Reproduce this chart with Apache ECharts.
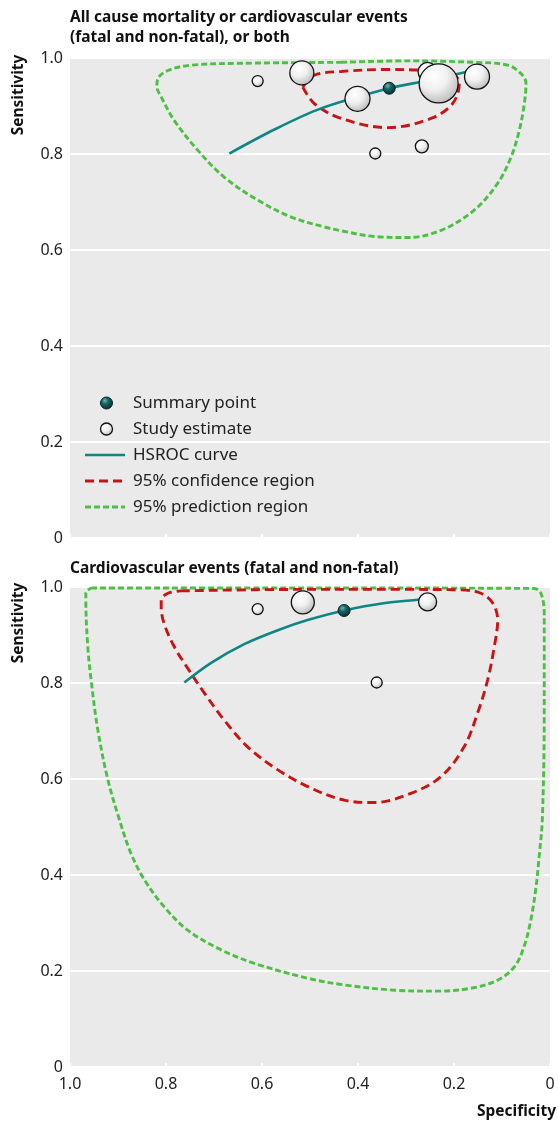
<!DOCTYPE html>
<html>
<head>
<meta charset="utf-8">
<script src="https://cdn.jsdelivr.net/npm/echarts@6/dist/echarts.min.js"></script>
<style>
html,body{margin:0;padding:0;background:#fff;}
#chart{width:558px;height:1126px;}
</style>
</head>
<body>
<div id="chart"></div>
<script>
// ---------- data (specificity, sensitivity) ----------
const xTicks = [1.0, 0.8, 0.6, 0.4, 0.2, 0];
const yTicks = [0, 0.2, 0.4, 0.6, 0.8, 1.0];

// Panel A: all cause mortality or cardiovascular events
const aStudySpec = [0.609, 0.517, 0.401, 0.255, 0.232, 0.152, 0.364, 0.267];
const aStudySens = [0.952, 0.969, 0.915, 0.971, 0.947, 0.961, 0.801, 0.816];
const aStudyWeight = [11, 24, 25, 19, 39, 25, 11, 13];
const aSummary = [0.335, 0.937];
const aCurveSpec = [0.668, 0.574, 0.477, 0.335, 0.255, 0.175];
const aCurveSens = [0.801, 0.851, 0.895, 0.937, 0.953, 0.971];
const aConfSpec = [0.515, 0.491, 0.435, 0.338, 0.248, 0.203, 0.189, 0.199, 0.262, 0.337, 0.435, 0.491, 0.515];
const aConfSens = [0.9395, 0.905, 0.874, 0.855, 0.874, 0.905, 0.947, 0.964, 0.974, 0.976, 0.972, 0.964, 0.9395];
const aPredSpec = [0.435, 0.296, 0.158, 0.088, 0.060, 0.050, 0.0535, 0.064, 0.081, 0.109, 0.158, 0.227, 0.296, 0.366, 0.435, 0.470, 0.540, 0.609, 0.679, 0.734, 0.783, 0.810, 0.819, 0.817, 0.796, 0.748, 0.644, 0.435];
const aPredSens = [0.991, 0.994, 0.991, 0.985, 0.967, 0.947, 0.905, 0.849, 0.794, 0.739, 0.683, 0.641, 0.626, 0.628, 0.640, 0.648, 0.669, 0.704, 0.752, 0.808, 0.870, 0.919, 0.940, 0.957, 0.974, 0.985, 0.989, 0.991];

// Panel B: cardiovascular events
const bStudySpec = [0.609, 0.515, 0.255, 0.361];
const bStudySens = [0.954, 0.968, 0.969, 0.801];
const bStudyWeight = [11, 23, 18, 11];
const bSummary = [0.429, 0.951];
const bCurveSpec = [0.762, 0.706, 0.637, 0.567, 0.505, 0.429, 0.347, 0.255];
const bCurveSens = [0.801, 0.842, 0.881, 0.910, 0.931, 0.951, 0.966, 0.975];
const bConfSpec = [0.769, 0.519, 0.310, 0.185, 0.144, 0.119, 0.109, 0.116, 0.130, 0.151, 0.179, 0.227, 0.290, 0.366, 0.429, 0.498, 0.567, 0.630, 0.679, 0.720, 0.755, 0.783, 0.804, 0.810, 0.810, 0.796, 0.769];
const bConfSens = [0.992, 0.995, 0.995, 0.994, 0.987, 0.966, 0.931, 0.876, 0.806, 0.737, 0.667, 0.605, 0.570, 0.551, 0.556, 0.581, 0.619, 0.667, 0.723, 0.779, 0.831, 0.876, 0.924, 0.959, 0.973, 0.987, 0.992];
const bPredSpec = [0.956, 0.519, 0.033, 0.019, 0.012, 0.012, 0.016, 0.022, 0.029, 0.040, 0.054, 0.074, 0.109, 0.165, 0.234, 0.324, 0.429, 0.505, 0.616, 0.685, 0.755, 0.804, 0.845, 0.873, 0.897, 0.921, 0.942, 0.956, 0.963, 0.967, 0.967, 0.956];
const bPredSens = [0.998, 0.998, 0.997, 0.987, 0.945, 0.737, 0.515, 0.445, 0.376, 0.306, 0.251, 0.209, 0.181, 0.164, 0.158, 0.160, 0.171, 0.185, 0.216, 0.244, 0.285, 0.334, 0.390, 0.445, 0.515, 0.598, 0.702, 0.806, 0.876, 0.973, 0.987, 0.998];

const legendLabels = ['Summary point', 'Study estimate', 'HSROC curve', '95% confidence region', '95% prediction region'];
const titleA = 'All cause mortality or cardiovascular events\n(fatal and non-fatal), or both';
const titleB = 'Cardiovascular events (fatal and non-fatal)';

// ---------- styles ----------
const FONT = '"Noto Sans", "Open Sans", sans-serif';
const TEAL = '#0f8585';
const RED = '#c81414';
const GREEN = '#4cbf44';
const BG = '#eaeaea';
const studyFill = {type:'radial', x:0.38, y:0.32, r:0.75, colorStops:[{offset:0,color:'#ffffff'},{offset:0.45,color:'#f0f0f0'},{offset:1,color:'#b4b4b4'}]};
const sumFill = {type:'radial', x:0.38, y:0.32, r:0.75, colorStops:[{offset:0,color:'#6fb5b0'},{offset:0.35,color:'#136565'},{offset:1,color:'#042828'}]};

function zip(a, b, c) { return a.map((v, i) => c ? [v, b[i], c[i]] : [v, b[i]]); }

function axisPair(idx, showX) {
  return {
    x: {
      type: 'value', gridIndex: idx, min: 0, max: 1, interval: 0.2, inverse: true,
      axisLine: {show: false},
      axisTick: {show: true, inside: true, length: 4, lineStyle: {color: '#ffffff', width: 2}},
      splitLine: {show: false},
      axisLabel: {show: showX, margin: 9, color: '#222', fontFamily: FONT, fontSize: 16,
        formatter: v => (v === 0 ? '0' : v.toFixed(1))}
    },
    y: {
      type: 'value', gridIndex: idx, min: 0, max: 1, interval: 0.2,
      axisLine: {show: false}, axisTick: {show: false},
      splitLine: {show: true, lineStyle: {color: '#ffffff', width: 2}},
      axisLabel: {color: '#222', fontFamily: FONT, fontSize: 16, margin: 7,
        formatter: v => (v === 0 ? '0' : v.toFixed(1))}
    }
  };
}
const axA = axisPair(0, false), axB = axisPair(1, true);

function lineSeries(idx, spec, sens, color, width, dash, z, sm) {
  return {type: 'line', xAxisIndex: idx, yAxisIndex: idx, data: zip(spec, sens), symbol: 'none',
    smooth: sm, silent: true, z: z,
    lineStyle: {color: color, width: width, type: dash}};
}
function studySeries(idx, spec, sens, w) {
  return {type: 'scatter', xAxisIndex: idx, yAxisIndex: idx, data: zip(spec, sens, w), z: 5,
    symbolSize: v => v[2],
    itemStyle: {color: studyFill, borderColor: '#111', borderWidth: 1.3, opacity: 1}};
}
function summarySeries(idx, pt) {
  return {type: 'scatter', xAxisIndex: idx, yAxisIndex: idx, data: [pt], z: 6, symbolSize: 12,
    itemStyle: {color: sumFill, borderColor: '#062020', borderWidth: 1, opacity: 1}};
}

// legend graphics
const lgX = 133, lgY0 = 403, lgStep = 26;
const legendGraphics = [];
legendLabels.forEach((t, i) => {
  legendGraphics.push({type: 'text', x: lgX, y: lgY0 + i * lgStep,
    style: {text: t, font: '17px ' + FONT, fill: '#222', verticalAlign: 'middle'}});
});
legendGraphics.push({type: 'circle', shape: {cx: 106.5, cy: lgY0, r: 6}, style: {fill: sumFill, stroke: '#062020', lineWidth: 1}});
legendGraphics.push({type: 'circle', shape: {cx: 106.5, cy: lgY0 + lgStep, r: 6}, style: {fill: studyFill, stroke: '#111', lineWidth: 1.3}});
legendGraphics.push({type: 'line', shape: {x1: 85, y1: lgY0 + 2 * lgStep, x2: 125, y2: lgY0 + 2 * lgStep}, style: {stroke: TEAL, lineWidth: 2.6}});
legendGraphics.push({type: 'line', shape: {x1: 85, y1: lgY0 + 3 * lgStep, x2: 125, y2: lgY0 + 3 * lgStep}, style: {stroke: RED, lineWidth: 2.9, lineDash: [9, 5]}});
legendGraphics.push({type: 'line', shape: {x1: 85, y1: lgY0 + 4 * lgStep, x2: 125, y2: lgY0 + 4 * lgStep}, style: {stroke: GREEN, lineWidth: 2.9, lineDash: [6, 3]}});

const chart = echarts.init(document.getElementById('chart'), null, {renderer: 'canvas'});
chart.setOption({
  animation: false,
  backgroundColor: '#ffffff',
  grid: [
    {left: 70, top: 58, width: 480, height: 480, show: true, backgroundColor: BG, borderWidth: 0},
    {left: 70, top: 587, width: 480, height: 480, show: true, backgroundColor: BG, borderWidth: 0}
  ],
  xAxis: [axA.x, axB.x],
  yAxis: [axA.y, axB.y],
  graphic: [
    {type: 'text', x: 70, y: 8, style: {text: titleA, font: 'bold 15.5px ' + FONT, fill: '#111', lineHeight: 20}},
    {type: 'text', x: 70, y: 569, style: {text: titleB, font: 'bold 15.5px ' + FONT, fill: '#111', verticalAlign: 'middle'}},
    {type: 'text', x: 18.5, y: 95, rotation: Math.PI / 2, style: {text: 'Sensitivity', font: 'bold 15.5px ' + FONT, fill: '#111', align: 'center', verticalAlign: 'middle'}},
    {type: 'text', x: 18.5, y: 623, rotation: Math.PI / 2, style: {text: 'Sensitivity', font: 'bold 15.5px ' + FONT, fill: '#111', align: 'center', verticalAlign: 'middle'}},
    {type: 'text', x: 556, y: 1112, style: {text: 'Specificity', font: 'bold 15.5px ' + FONT, fill: '#111', align: 'right', verticalAlign: 'middle'}}
  ].concat(legendGraphics),
  series: [
    lineSeries(0, aPredSpec, aPredSens, GREEN, 2.9, [6, 3], 2, 0.35),
    lineSeries(0, aConfSpec, aConfSens, RED, 2.9, [9, 5], 3, 0.35),
    lineSeries(0, aCurveSpec, aCurveSens, TEAL, 2.6, 'solid', 4, 0.3),
    studySeries(0, aStudySpec, aStudySens, aStudyWeight),
    summarySeries(0, aSummary),
    lineSeries(1, bPredSpec, bPredSens, GREEN, 2.9, [6, 3], 2, 0.35),
    lineSeries(1, bConfSpec, bConfSens, RED, 2.9, [9, 5], 3, 0.35),
    lineSeries(1, bCurveSpec, bCurveSens, TEAL, 2.6, 'solid', 4, 0.3),
    studySeries(1, bStudySpec, bStudySens, bStudyWeight),
    summarySeries(1, bSummary)
  ]
});
</script>
</body>
</html>
